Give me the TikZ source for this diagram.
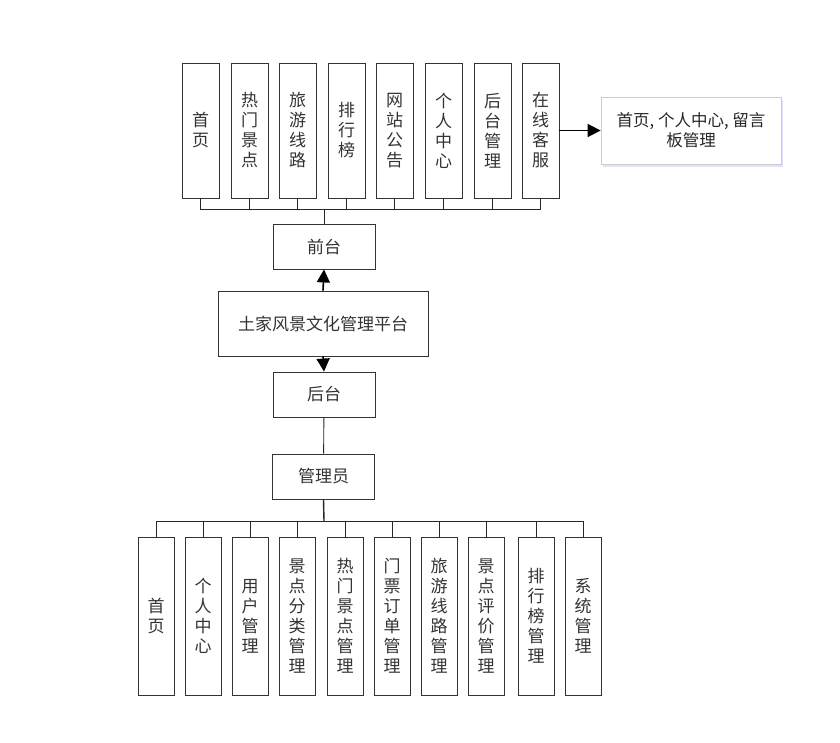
\documentclass[tikz,border=0pt]{standalone}
\usepackage{fontspec}
\newfontfamily\cjk{Noto Sans CJK SC}
\usetikzlibrary{arrows.meta,shadows}
\tikzset{
  vbox/.style={draw=black!80,line width=0.9pt,minimum width=37pt,inner sep=0pt,
    align=center,text=black!80,font=\cjk\fontsize{17}{20}\selectfont},
  topbox/.style={vbox,minimum height=135pt},
  lowbox/.style={vbox,minimum width=36pt,minimum height=158pt},
  hbox/.style={draw=black!80,line width=0.9pt,minimum width=102pt,minimum height=45pt,
    inner sep=0pt,text=black!80,font=\cjk\fontsize{17}{20}\selectfont},
  link/.style={black!85,line width=0.9pt},
  tip/.style={black,line width=1.6pt,-{Triangle[length=13pt,width=13pt]}}
}
\begin{document}
\begin{tikzpicture}[x=1pt,y=-1pt]
\useasboundingbox (0,0) rectangle (840,742);
% front end
\node[topbox] at (200.5,130.5) (t1) {首\\页};
\node[topbox] at (249.5,130.5) (t2) {热\\门\\景\\点};
\node[topbox] at (297.5,130.5) (t3) {旅\\游\\线\\路};
\node[topbox] at (346.5,130.5) (t4) {排\\行\\榜};
\node[topbox] at (394.5,130.5) (t5) {网\\站\\公\\告};
\node[topbox] at (443.5,130.5) (t6) {个\\人\\中\\心};
\node[topbox] at (492.5,130.5) (t7) {后\\台\\管\\理};
\node[topbox] at (540.5,130.5) (t8) {在\\线\\客\\服};
\node[draw=black!20,fill=white,line width=0.8pt,minimum width=180pt,minimum height=67pt,
  align=center,text=black!85,font=\cjk\fontsize{16.5}{20}\selectfont,
  drop shadow={fill=blue!15,shadow xshift=2pt,shadow yshift=-3pt,opacity=0.8}]
  at (691,130.5) (kf) {首页, 个人中心, 留言\\板管理};
\node[hbox] at (324,246.5) (qt) {前台};
\node[hbox,minimum width=210pt,minimum height=65pt] at (323,323.5) (pt) {土家风景文化管理平台};
\node[hbox] at (324,394.5) (ht) {后台};
\node[hbox] at (323.5,476.5) (gly) {管理员};
% back end
\node[lowbox] at (156,616) (b1) {首\\页};
\node[lowbox] at (203,616) (b2) {个\\人\\中\\心};
\node[lowbox] at (250,616) (b3) {用\\户\\管\\理};
\node[lowbox] at (297,616) (b4) {景\\点\\分\\类\\管\\理};
\node[lowbox] at (345,616) (b5) {热\\门\\景\\点\\管\\理};
\node[lowbox] at (392,616) (b6) {门\\票\\订\\单\\管\\理};
\node[lowbox] at (439,616) (b7) {旅\\游\\线\\路\\管\\理};
\node[lowbox] at (486,616) (b8) {景\\点\\评\\价\\管\\理};
\node[lowbox] at (536,616) (b9) {排\\行\\榜\\管\\理};
\node[lowbox] at (583,616) (b10) {系\\统\\管\\理};
\coordinate (tbus) at (324,209);
\coordinate (bbus) at (324,521);
\foreach \n in {t1,t2,t3,t4,t5,t6,t7,t8}
  \draw[link] (\n.south) |- (tbus);
\draw[link] (tbus) -- (qt.north);
\draw[tip] (t8) -- (kf);
\draw[tip] (pt.north) -- (qt.south);
\draw[tip] (pt.south) -- (ht.north);
\draw[link] (ht) -- (gly);
\draw[link,line width=1.4pt] (gly.south) -- (bbus);
\foreach \n in {b1,b2,b3,b4,b5,b6,b7,b8,b9,b10}
  \draw[link] (bbus) -| (\n.north);
\end{tikzpicture}
\end{document}
